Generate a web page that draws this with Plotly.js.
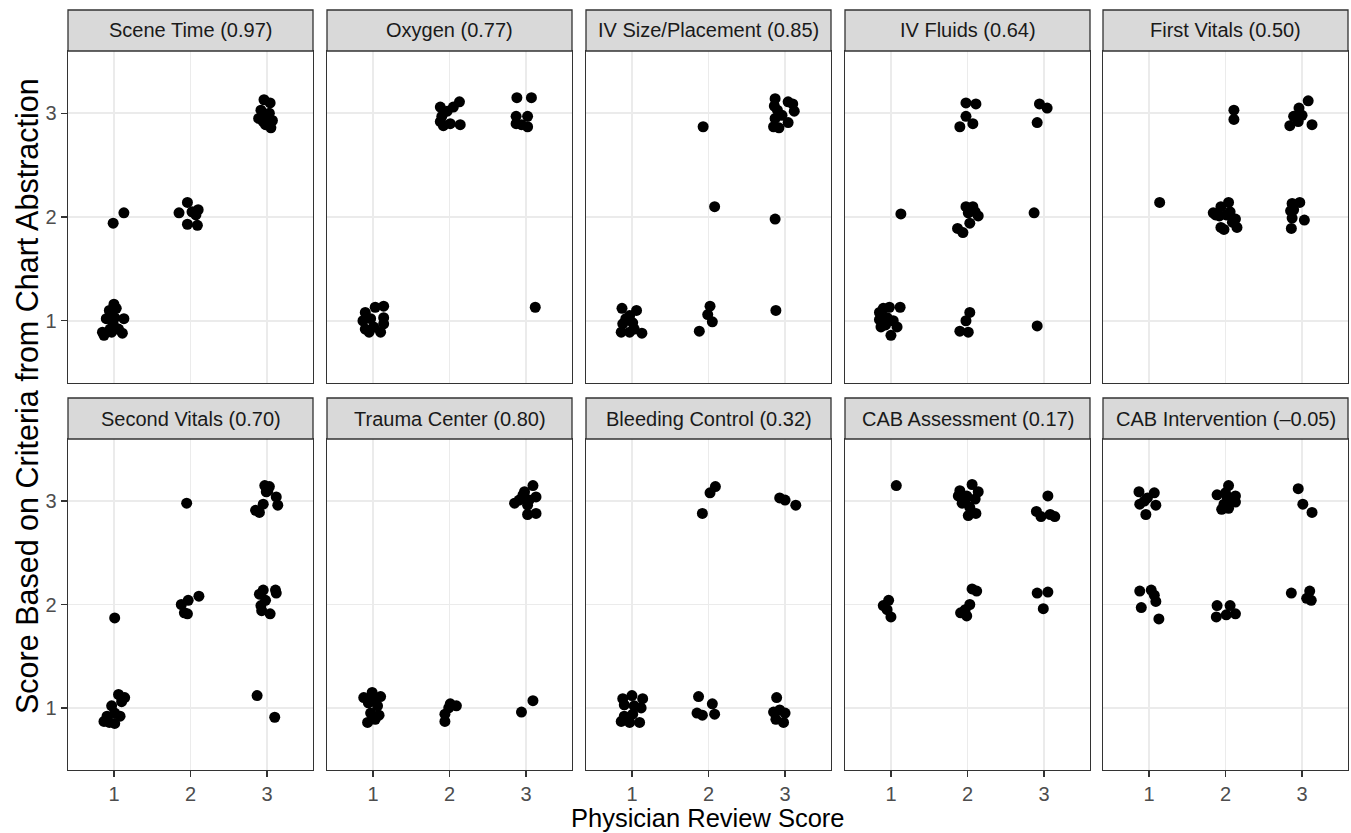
<!DOCTYPE html>
<html>
<head>
<meta charset="utf-8">
<script src="https://cdn.plot.ly/plotly-3.0.1.min.js"></script>
<style>html,body{margin:0;padding:0;background:#fff;}#chart{width:1351px;height:833px;}</style>
</head>
<body>
<div id="chart"></div>
<script>
// Facet titles
const panelTitles = ["Scene Time (0.97)", "Oxygen (0.77)", "IV Size/Placement (0.85)", "IV Fluids (0.64)", "First Vitals (0.50)",
  "Second Vitals (0.70)", "Trauma Center (0.80)", "Bleeding Control (0.32)", "CAB Assessment (0.17)", "CAB Intervention (\u20130.05)"];
const tickVals = [1, 2, 3];
const tickText = ["1", "2", "3"];

// Jittered points (x = physician review score, y = chart abstraction score)
const sceneX = [0.99,1.13, 1.85,1.96,2.02,2.10,2.07,1.96,2.09, 2.96,3.04,2.92,2.89,3.00,3.07,2.98,3.05,3.03,2.95, 1.00,0.94,1.03,0.90,1.01,1.13,0.85,0.95,1.06,1.11,0.87,0.99,0.97];
const sceneY = [1.94,2.04, 2.04,2.14,2.05,2.07,2.02,1.93,1.92, 3.13,3.10,3.03,2.95,2.96,2.93,2.89,2.86,3.00,2.92, 1.16,1.10,1.12,1.02,1.03,1.02,0.89,0.92,0.92,0.88,0.86,0.97,0.89];

const oxygenX = [1.88,1.97,2.13,2.05,1.90,1.92,2.01,2.14,1.88, 2.88,3.07,2.87,2.87,2.94,3.02,3.02, 3.12, 0.90,1.03,1.14,0.87,0.97,1.14,0.90,1.01,1.10,1.14,0.95];
const oxygenY = [3.06,3.02,3.11,3.06,2.97,2.88,2.90,2.89,2.92, 3.15,3.15,2.97,2.90,2.89,2.87,2.97, 1.13, 1.08,1.13,1.14,1.00,1.02,1.03,0.92,0.94,0.89,0.97,0.89];

const ivSizeX = [1.93, 2.08, 2.87, 2.88, 2.02,1.99,2.05,1.88, 2.87,3.04,3.10,3.12,2.86,2.96,2.87,3.04,2.85,2.92,2.90, 0.87,1.06,0.97,0.88,1.01,0.86,0.97,1.13,0.92,1.03];
const ivSizeY = [2.87, 2.10, 1.98, 1.10, 1.14,1.06,0.99,0.90, 3.14,3.11,3.09,3.02,3.07,2.98,2.95,2.91,2.87,2.86,3.03, 1.12,1.10,1.05,0.97,0.98,0.89,0.89,0.88,1.02,0.92];

const ivFluidsX = [1.98,2.11,1.98,2.07,1.90, 2.94,3.04,2.91, 1.13, 1.98,2.07,2.10,2.14,2.03,1.87,1.94,2.01, 2.87, 0.90,0.98,1.12,0.85,0.95,0.85,1.03,0.87,1.08,1.00,0.93, 2.03,1.98,1.90,2.01, 2.91];
const ivFluidsY = [3.10,3.09,2.97,2.90,2.87, 3.09,3.05,2.91, 2.03, 2.10,2.10,2.05,2.01,1.94,1.89,1.85,2.04, 2.04, 1.12,1.13,1.13,1.08,1.03,1.01,1.00,0.94,0.94,0.86,0.96, 1.08,1.00,0.90,0.89, 0.95];

const firstVitalsX = [2.11,2.11, 3.08,2.96,2.89,3.00,2.84,2.95,3.13, 1.14, 2.04,1.94,1.84,1.92,2.01,2.06,2.13,2.15,1.94,1.98,2.09,1.87, 2.87,2.97,2.85,2.87,3.03,2.86,2.89];
const firstVitalsY = [3.03,2.94, 3.12,3.05,2.97,2.98,2.88,2.92,2.89, 2.14, 2.14,2.10,2.04,2.01,2.02,2.05,1.98,1.90,1.90,1.88,1.95,2.02, 2.13,2.14,2.06,1.99,1.97,1.89,2.07];

const secondVitalsX = [1.95, 1.01, 1.88,1.97,2.11,1.92,1.96, 2.97,3.03,2.99,3.12,2.95,3.14,2.85,2.90,3.01, 2.95,3.11,3.12,2.90,2.98,2.92,2.93,3.04, 2.87,3.10, 1.06,1.14,1.10,0.97,1.01,1.08,0.87,0.94,1.01,0.91];
const secondVitalsY = [2.98, 1.87, 2.00,2.04,2.08,1.92,1.91, 3.15,3.14,3.09,3.04,2.97,2.96,2.91,2.89,3.10, 2.14,2.14,2.11,2.10,2.04,1.99,1.94,1.91, 1.12,0.91, 1.13,1.10,1.06,1.02,0.95,0.92,0.87,0.86,0.85,0.92];

const traumaX = [3.09,2.98,3.13,2.85,2.91,3.02,3.04,3.13,3.02,2.96, 0.88,0.99,1.10,0.94,1.06,0.97,1.08,0.93,1.03,1.01, 2.01,2.09,1.94,1.94,1.99, 2.94,3.09];
const traumaY = [3.15,3.09,3.04,2.98,3.01,2.96,3.01,2.88,2.87,3.06, 1.10,1.15,1.11,1.05,1.02,0.95,0.93,0.86,0.89,1.08, 1.04,1.02,0.94,0.87,1.00, 0.96,1.07];

const bleedingX = [2.02,2.09,1.92, 2.93,3.00,3.14, 0.88,1.00,1.14,0.90,1.03,1.12,0.86,0.97,1.10,0.90,1.01, 1.87,2.05,1.85,1.92,2.08, 2.89,2.85,2.93,3.00,2.88,2.98];
const bleedingY = [3.08,3.14,2.88, 3.03,3.01,2.96, 1.09,1.12,1.09,1.03,1.02,1.00,0.87,0.86,0.86,0.92,0.94, 1.11,1.04,0.95,0.93,0.94, 1.10,0.96,0.98,0.95,0.89,0.86];

const cabAssessX = [1.07, 2.06,1.90,2.14,1.88,1.99,2.10,1.93,2.03,2.11,2.01,1.97, 3.05,2.90,2.96,3.08,3.14, 0.97,0.90,0.95,1.00, 2.06,2.12,2.03,1.97,1.91,1.99, 2.91,3.05,2.99];
const cabAssessY = [3.15, 3.16,3.10,3.09,3.05,3.05,3.02,2.98,2.94,2.88,2.86,3.01, 3.05,2.90,2.85,2.87,2.85, 2.04,1.99,1.95,1.88, 2.15,2.13,2.00,1.95,1.92,1.89, 2.11,2.12,1.96];

const cabInterX = [0.87,1.07,0.98,0.88,1.09,0.96,0.94, 2.04,1.89,2.00,2.13,2.06,1.98,1.95,2.04,2.13,2.02, 2.95,3.01,3.13, 0.88,1.03,1.07,1.09,0.90,1.13, 1.89,2.06,1.88,2.01,2.13, 2.86,3.10,3.06,3.12];
const cabInterY = [3.09,3.08,3.03,2.97,2.96,2.87,3.00, 3.15,3.06,3.08,3.05,3.01,2.97,2.92,2.93,2.99,3.04, 3.12,2.97,2.89, 2.13,2.14,2.09,2.03,1.97,1.86, 1.99,1.99,1.88,1.90,1.91, 2.11,2.13,2.06,2.04];

const panelX = [sceneX, oxygenX, ivSizeX, ivFluidsX, firstVitalsX, secondVitalsX, traumaX, bleedingX, cabAssessX, cabInterX];
const panelY = [sceneY, oxygenY, ivSizeY, ivFluidsY, firstVitalsY, secondVitalsY, traumaY, bleedingY, cabAssessY, cabInterY];

// Geometry (pixels)
const W = 1351, H = 833;
const colLeft = [68, 327, 586, 845, 1103];
const panelW = 245;
const rowTop = [51, 439], rowBottom = [383, 770];
const stripH = 41;
const px = v => v / W;
const py = v => 1 - v / H;

const font = "Liberation Sans, Arial, Helvetica, sans-serif";
const traces = [];
const layout = {
  width: W, height: H,
  margin: {l: 0, r: 0, t: 0, b: 0},
  paper_bgcolor: "#ffffff", plot_bgcolor: "#ffffff",
  showlegend: false,
  font: {family: font, color: "#4D4D4D"},
  shapes: [], annotations: []
};

for (let i = 0; i < 10; i++) {
  const r = Math.floor(i / 5), c = i % 5;
  const sfx = i === 0 ? "" : String(i + 1);
  traces.push({
    type: "scatter", mode: "markers",
    x: panelX[i], y: panelY[i],
    xaxis: "x" + sfx, yaxis: "y" + sfx,
    marker: {color: "#000000", size: 11, line: {width: 0}},
    hoverinfo: "skip"
  });
  const common = {
    range: [0.4, 3.6], tickvals: tickVals, ticktext: tickText,
    showgrid: true, gridcolor: "#EBEBEB", gridwidth: 1.8, zeroline: false,
    showline: true, mirror: true, linecolor: "#333333", linewidth: 1.3,
    tickfont: {family: font, size: 20, color: "#4D4D4D"},
    fixedrange: true
  };
  layout["xaxis" + sfx] = Object.assign({}, common, {
    domain: [px(colLeft[c]), px(colLeft[c] + panelW)],
    anchor: "y" + sfx,
    showticklabels: r === 1,
    ticks: r === 1 ? "outside" : "", ticklen: 6, tickwidth: 1.3, tickcolor: "#333333"
  });
  layout["yaxis" + sfx] = Object.assign({}, common, {
    domain: [py(rowBottom[r]), py(rowTop[r])],
    anchor: "x" + sfx,
    showticklabels: c === 0,
    ticks: c === 0 ? "outside" : "", ticklen: 6, tickwidth: 1.3, tickcolor: "#333333"
  });
  // strip
  layout.shapes.push({
    type: "rect", xref: "paper", yref: "paper",
    x0: px(colLeft[c]), x1: px(colLeft[c] + panelW),
    y0: py(rowTop[r]), y1: py(rowTop[r] - stripH),
    fillcolor: "#D9D9D9", line: {color: "#333333", width: 1.3}, layer: "above"
  });
  layout.annotations.push({
    xref: "paper", yref: "paper",
    x: px(colLeft[c] + panelW / 2), y: py(rowTop[r] - stripH / 2),
    text: panelTitles[i], showarrow: false,
    xanchor: "center", yanchor: "middle",
    font: {family: font, size: 20, color: "#1A1A1A"}
  });
}

layout.annotations.push({
  xref: "paper", yref: "paper", x: px(708), y: py(818),
  text: "Physician Review Score", showarrow: false,
  xanchor: "center", yanchor: "middle",
  font: {family: font, size: 25.5, color: "#000000"}
});
layout.annotations.push({
  xref: "paper", yref: "paper", x: px(27), y: py(396),
  text: "Score Based on Criteria from Chart Abstraction", showarrow: false,
  textangle: -90, xanchor: "center", yanchor: "middle",
  font: {family: font, size: 30.5, color: "#000000"}
});

Plotly.newPlot("chart", traces, layout, {displayModeBar: false, staticPlot: true});
</script>
</body>
</html>
